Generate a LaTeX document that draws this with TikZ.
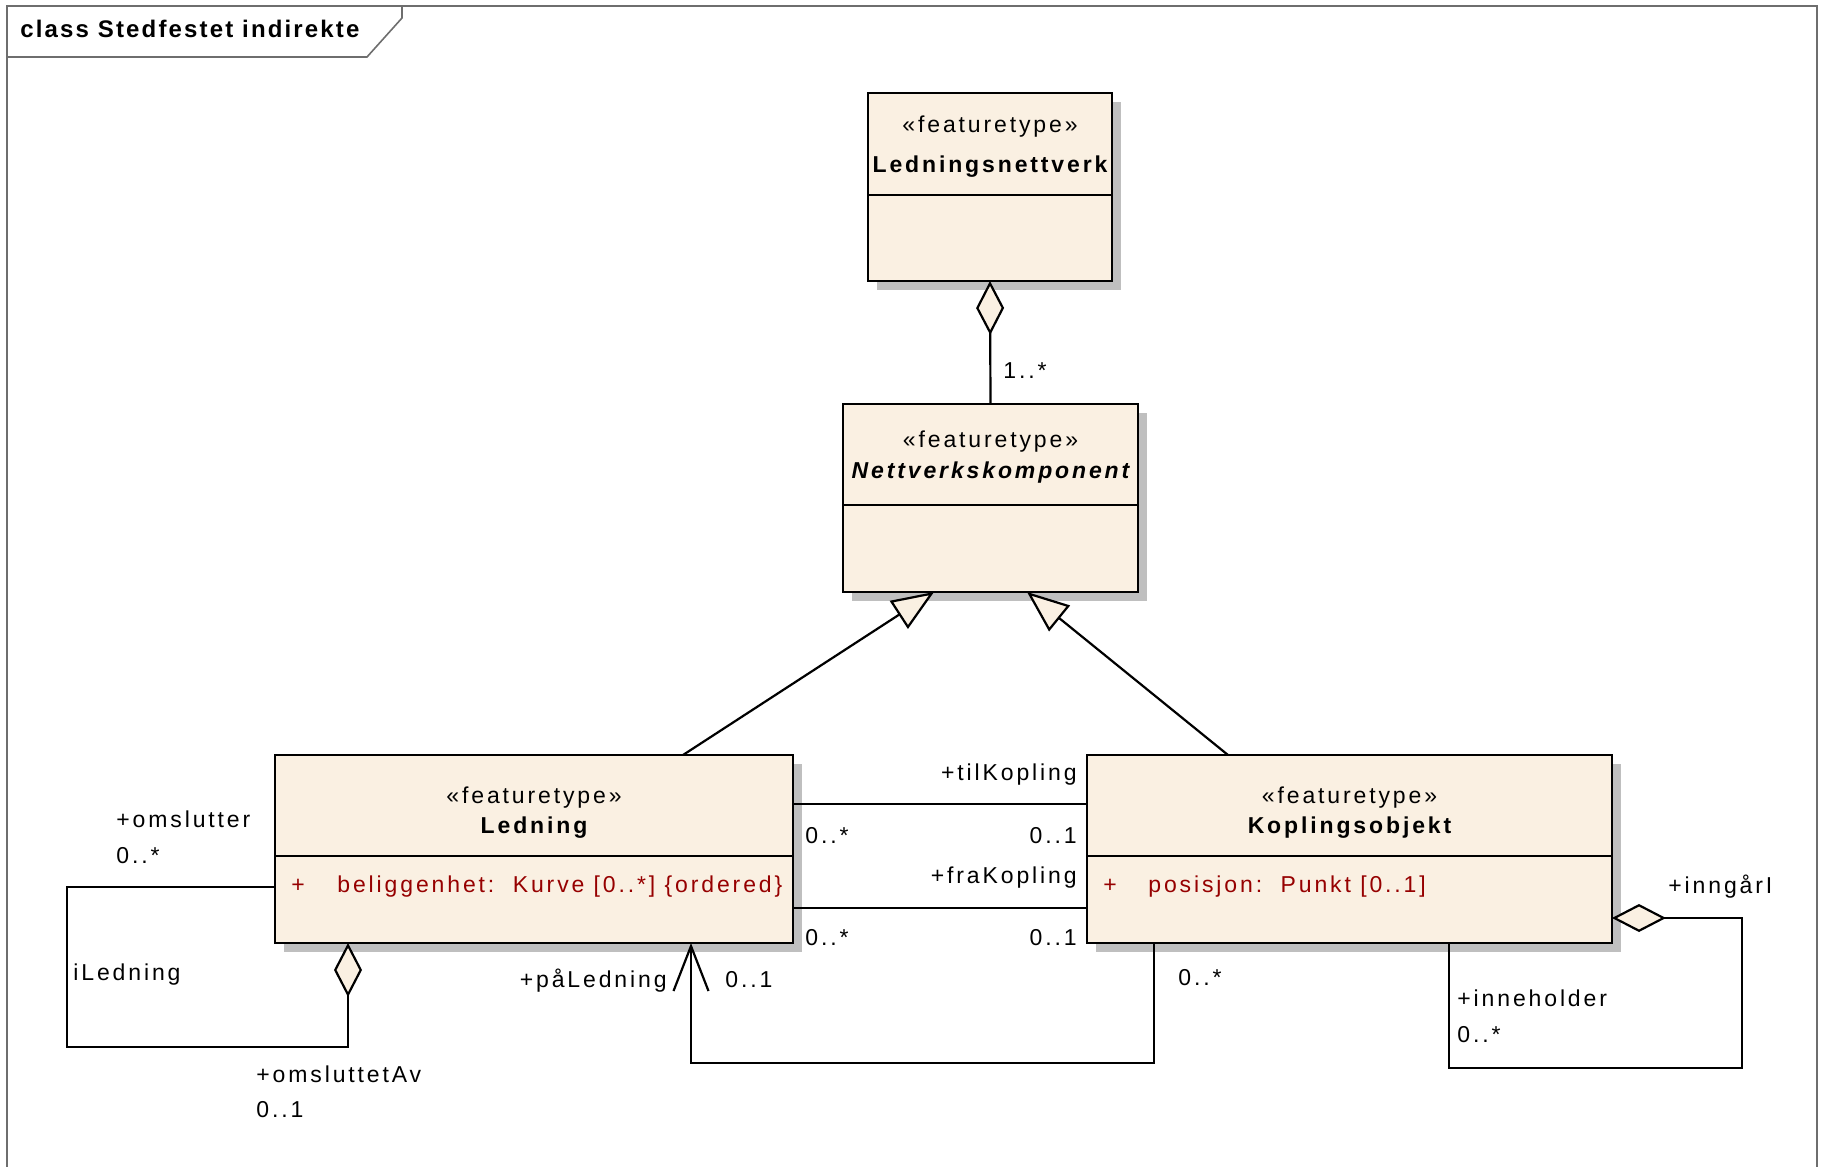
\documentclass[tikz,border=0pt]{standalone}
\usepackage{fontspec}
\setmainfont{Liberation Sans}[LetterSpace=12.5]
\newfontfamily\titlefont{Liberation Sans}[LetterSpace=9]
\usetikzlibrary{arrows.meta,shadows}
\definecolor{boxfill}{RGB}{250,240,226}
\definecolor{attrred}{RGB}{150,0,0}
\definecolor{framegray}{RGB}{110,110,110}

\begin{document}
\begin{tikzpicture}[x=0.5pt,y=-0.5pt,
        every node/.style={font=\fontsize{11.5}{14}\selectfont},
        cls/.style={draw, fill=boxfill, line width=1.3pt, inner sep=0pt, outer sep=0pt,
            drop shadow={shadow xshift=4.5pt, shadow yshift=-4.5pt, fill=black!25, opacity=1}},
        txt/.style={inner sep=0pt, text height=8.3pt, text depth=2.6pt},
        clsname/.style={txt, font=\fontsize{11.5}{14}\selectfont\bfseries},
        attr/.style={txt, anchor=west, text=attrred},
        lbl/.style={txt, anchor=west},
        rlbl/.style={txt, anchor=east},
        assoc/.style={line width=1.1pt},
        agg/.style={{Diamond[length=27pt,width=14pt,fill=boxfill]}-},
        gen/.style={-{Triangle[length=21pt,width=16.5pt,fill=boxfill]}},
        nav/.style={-{Straight Barb[length=22.5pt,width=17.5pt]}}]
        \useasboundingbox (0,0) rectangle (1822,1167);
        \draw[framegray, line width=0.8pt] (7,1175) -- (7,6) -- (1817,6) -- (1817,1175);
        \draw[framegray, line width=0.8pt] (7,57) -- (367,57) -- (402,18) -- (402,6);
        \node[txt, anchor=west, font=\titlefont\fontsize{12}{14}\selectfont\bfseries] (T) at (20,32) {class Stedfestet indirekte};

        \node[cls, minimum width=122pt, minimum height=94pt] (A) at (990,187) {};
        \node[cls, minimum width=147.5pt, minimum height=94pt] (B) at (990.5,498) {};
        \node[cls, minimum width=259pt, minimum height=94pt] (C) at (534,849) {};
        \node[cls, minimum width=262.5pt, minimum height=94pt] (D) at (1349.5,849) {};
        \draw[line width=1.3pt] (A.west |- 0,195) -- (A.east |- 0,195);
        \draw[line width=1.3pt] (B.west |- 0,505) -- (B.east |- 0,505);
        \draw[line width=1.3pt] (C.west |- 0,856) -- (C.east |- 0,856);
        \draw[line width=1.3pt] (D.west |- 0,856) -- (D.east |- 0,856);

        \node[txt] (A1) at (990,127) {«featuretype»};
        \node[clsname] (A2) at (990,167) {Ledningsnettverk};
        \node[txt] (B1) at (990.5,442) {«featuretype»};
        \node[clsname, font=\fontsize{11.5}{14}\selectfont\bfseries\itshape] (B2) at (990.5,473) {Nettverkskomponent};
        \node[txt] (C1) at (534,798) {«featuretype»};
        \node[clsname] (C2) at (534,828) {Ledning};
        \node[attr, anchor=center] (C3) at (298,887) {+};
        \node[attr] (C4) at (337,887) {beliggenhet:\ \ Kurve [0..*] \{ordered\}};
        \node[txt] (D1) at (1349.5,798) {«featuretype»};
        \node[clsname] (D2) at (1349.5,828) {Koplingsobjekt};
        \node[attr, anchor=center] (D3) at (1110,887) {+};
        \node[attr] (D4) at (1148,887) {posisjon:\ \ Punkt [0..1]};

        \draw[assoc, agg] (A.south) -- (B.north);
        \draw[assoc, gen] (C.north -| 683,0) -- (B.south -| 934,0);
        \draw[assoc, gen] (D.north -| 1228,0) -- (B.south -| 1027,0);
        \draw[assoc] (C.east |- 0,804) -- (D.west |- 0,804);
        \draw[assoc] (C.east |- 0,908) -- (D.west |- 0,908);
        \draw[assoc, nav] (D.south -| 1154,0) -- ++(0,120) -| (C.south -| 691,0);
        \draw[assoc, agg] (C.south -| 348,0) -- ++(0,104) -| ++(-281,-160) -- (C.west |- 0,887);
        \draw[assoc, agg] (D.east |- 0,918) -- ++(130,0) |- ++(-293,150) -- (D.south -| 1449,0);

        \node[lbl] (E1) at (1003,373) {1..*};
        \node[rlbl] (E2) at (1077,775) {+tilKopling};
        \node[lbl] (E3) at (805,838) {0..*};
        \node[rlbl] (E4) at (1077,838) {0..1};
        \node[rlbl] (E5) at (1077,878) {+fraKopling};
        \node[lbl] (E6) at (805,940) {0..*};
        \node[rlbl] (E7) at (1077,940) {0..1};
        \node[rlbl] (E8) at (667,982) {+påLedning};
        \node[lbl] (E9) at (725,982) {0..1};
        \node[lbl] (E10) at (1178,980) {0..*};
        \node[lbl] (F1) at (116,822) {+omslutter};
        \node[lbl] (F2) at (116,858) {0..*};
        \node[lbl] (F3) at (73,975) {iLedning};
        \node[lbl] (F4) at (256,1077) {+omsluttetAv};
        \node[lbl] (F5) at (256,1112) {0..1};
        \node[lbl] (G1) at (1668,888) {+inngårI};
        \node[lbl] (G2) at (1457,1001) {+inneholder};
        \node[lbl] (G3) at (1457,1037) {0..*};
    \end{tikzpicture}
\end{document}
